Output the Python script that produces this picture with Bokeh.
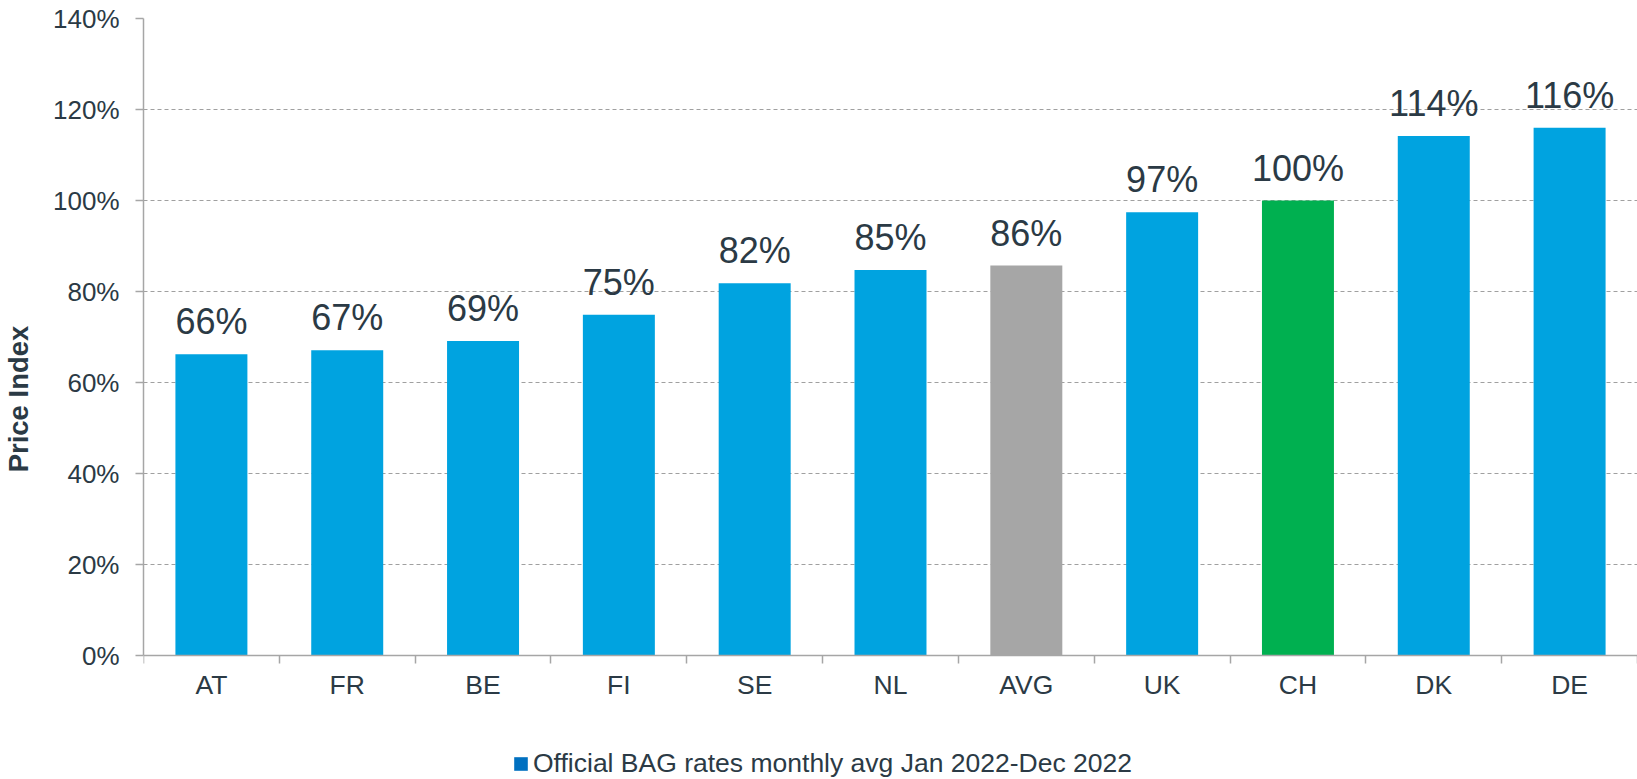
from bokeh.plotting import figure
from bokeh.models import (ColumnDataSource, Range1d, FixedTicker, PrintfTickFormatter,
                          LabelSet, Legend, LegendItem)
from bokeh.core.properties import value
from bokeh.embed import file_html
from bokeh.resources import INLINE

categories = ["AT", "FR", "BE", "FI", "SE", "NL", "AVG", "UK", "CH", "DK", "DE"]
values = [66.2, 67.1, 69.1, 74.9, 81.8, 84.7, 85.7, 97.4, 100.0, 114.2, 116.0]
value_labels = [f"{round(v):d}%" for v in values]
y_ticks = [0, 20, 40, 60, 80, 100, 120, 140]
legend_label = "Official BAG rates monthly avg Jan 2022-Dec 2022"
y_title = "Price Index"

BLUE = "#00a3e0"
GREY = "#a6a6a6"
GREEN = "#00b050"
colors = [GREY if c == "AVG" else GREEN if c == "CH" else BLUE for c in categories]

TEXT = "#2b3a45"
AXIS = "#a6a6a6"
FONT = "Liberation Sans"

W, H = 1637, 779
TOP, LEFT = 18, 143
AXIS_Y = 655            # pixel row of the 0% line
Y_MAX = 140
px_per_unit = (AXIS_Y - TOP) / Y_MAX
y_start = -(H - AXIS_Y) / px_per_unit   # room below the axis for labels + legend

xs = list(range(len(categories)))
src = ColumnDataSource(dict(x=xs, top=values, color=colors, label=value_labels))

p = figure(width=W, height=H, output_backend="svg", toolbar_location=None,
           x_range=Range1d(-0.5, len(categories) - 0.5), y_range=Range1d(y_start, Y_MAX),
           min_border_left=LEFT, min_border_right=0, min_border_top=TOP, min_border_bottom=0)
p.outline_line_color = None
p.background_fill_color = "white"
p.border_fill_color = "white"

p.vbar(x="x", top="top", width=0.53, bottom=0, fill_color="color", line_color=None, source=src)

labels = LabelSet(x="x", y="top", text="label", source=src, text_align="center",
                  text_baseline="alphabetic", y_offset=20, text_font=value(FONT),
                  text_font_size="36px", text_color=TEXT)
p.add_layout(labels)

# x axis, pinned at 0%
p.xaxis.fixed_location = 0
p.xaxis.ticker = FixedTicker(ticks=xs, minor_ticks=[i - 0.5 for i in range(len(categories) + 1)])
p.xaxis.major_label_overrides = {i: c for i, c in enumerate(categories)}
p.xaxis.major_tick_line_color = None
p.xaxis.major_tick_out = 0
p.xaxis.major_tick_in = 0
p.xaxis.minor_tick_out = 8
p.xaxis.minor_tick_in = 0
p.xaxis.minor_tick_line_color = AXIS
p.xaxis.minor_tick_line_width = 1.5
p.xaxis.axis_line_color = AXIS
p.xaxis.axis_line_width = 1.5
p.xaxis.major_label_standoff = 6
p.xaxis.major_label_text_font = FONT
p.xaxis.major_label_text_font_size = "26.5px"
p.xaxis.major_label_text_color = TEXT

# y axis
p.yaxis.bounds = (0, Y_MAX)
p.yaxis.ticker = FixedTicker(ticks=y_ticks)
p.yaxis.formatter = PrintfTickFormatter(format="%d%%")
p.yaxis.major_tick_out = 8
p.yaxis.major_tick_in = 0
p.yaxis.minor_tick_line_color = None
p.yaxis.major_tick_line_color = AXIS
p.yaxis.major_tick_line_width = 1.5
p.yaxis.axis_line_color = AXIS
p.yaxis.axis_line_width = 1.5
p.yaxis.major_label_standoff = 16
p.yaxis.major_label_text_font = FONT
p.yaxis.major_label_text_font_size = "26px"
p.yaxis.major_label_text_color = TEXT
p.yaxis.axis_label = y_title
p.yaxis.axis_label_text_font = FONT
p.yaxis.axis_label_text_font_size = "27.5px"
p.yaxis.axis_label_text_font_style = "bold"
p.yaxis.axis_label_text_color = TEXT
p.yaxis.axis_label_standoff = 16

p.xgrid.grid_line_color = None
p.ygrid.ticker = FixedTicker(ticks=y_ticks[1:])
p.ygrid.grid_line_color = "#a0a0a0"
p.ygrid.grid_line_dash = "4 3"
p.ygrid.grid_line_width = 1

# legend (swatch renderer holds no drawable point)
nan = float("nan")
leg_r = p.vbar(x=[nan], top=[nan], width=0.5, fill_color="#0070c0", line_color=None)
legend = Legend(items=[LegendItem(label=legend_label, renderers=[leg_r])],
                location=(369, 0), orientation="horizontal",
                glyph_width=17, glyph_height=17, label_standoff=4,
                padding=0, margin=0, border_line_color=None,
                background_fill_alpha=0, label_text_font=FONT,
                label_text_font_size="26.5px", label_text_color=TEXT)
p.add_layout(legend, "center")

open("out.html", "w").write(file_html(p, INLINE))
